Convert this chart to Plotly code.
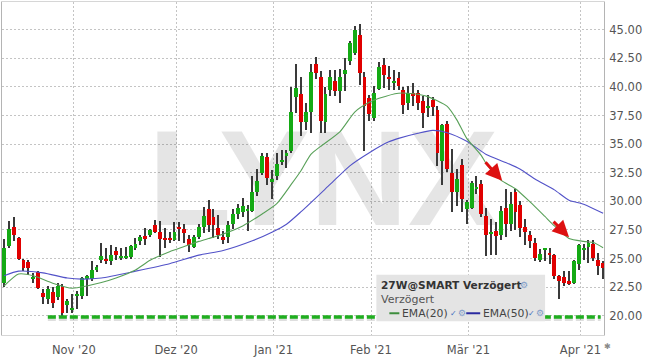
import pandas as pd
import plotly.graph_objects as go

# ---------------- data ----------------
holidays = ["2020-12-24", "2020-12-25", "2020-12-31", "2021-01-01", "2021-04-02", "2021-04-05"]
dates = [d for d in pd.bdate_range("2020-10-13", "2021-04-12") if d.strftime("%Y-%m-%d") not in holidays]

opens = [22.9, 26.1, 27.8, 26.8, 24.9, 24.7, 23.25, 23.8, 22.0, 21.45,
         22.1, 21.6, 22.5, 20.9, 20.55, 21.75, 21.7, 23.2, 23.2, 24.0,
         24.9, 25.0, 24.75, 25.65, 25.1, 25.1, 25.15, 25.9, 26.5, 27.0,
         27.1, 27.95, 27.35, 26.8, 26.8, 26.6, 27.75, 27.6, 26.7, 26.05,
         26.9, 27.8, 29.35, 28.6, 27.7, 26.9, 26.9, 28.0, 28.9, 29.1,
         29.2, 29.2, 30.85, 32.5, 33.85, 31.7, 32.2, 33.4, 33.95, 34.4,
         39.1, 39.4, 36.9, 37.85, 42.0, 40.85, 36.9, 39.7, 40.55, 39.6,
         41.1, 42.3, 43.0, 44.5, 40.85, 39.0, 37.3, 39.8, 41.9, 40.8,
         40.35, 40.8, 39.7, 38.6, 39.45, 39.5, 38.8, 38.2, 38.9, 38.0,
         33.5, 36.8, 32.45, 30.85, 33.2, 29.35, 29.4, 31.1, 31.5, 28.7,
         27.2, 27.4, 27.05, 29.4, 28.05, 30.8, 29.7, 27.75, 27.05, 26.4,
         24.9, 25.75, 25.5, 25.3, 23.5, 23.4, 23.0, 22.9, 24.5, 25.75,
         26.05, 26.25, 24.9, 24.6]
highs = [26.7, 28.3, 28.6, 26.9, 25.0, 24.9, 23.7, 23.9, 22.3, 22.6,
         22.5, 22.9, 22.8, 21.45, 21.9, 22.2, 23.4, 23.6, 24.8, 24.4,
         26.4, 25.9, 26.2, 26.05, 25.9, 26.0, 26.2, 26.8, 27.05, 27.7,
         27.6, 28.35, 28.3, 27.7, 27.3, 28.2, 28.2, 28.0, 27.05, 27.1,
         28.0, 29.5, 30.1, 29.35, 28.8, 27.4, 28.3, 29.3, 29.8, 30.3,
         29.7, 32.2, 32.8, 34.2, 34.2, 32.7, 34.2, 34.5, 34.5, 40.0,
         42.0, 40.9, 38.6, 42.0, 42.6, 41.4, 40.0, 41.5, 41.5, 41.6,
         42.5, 44.0, 45.3, 45.5, 41.3, 39.3, 40.1, 42.2, 42.5, 41.8,
         41.5, 41.3, 40.0, 40.1, 40.3, 39.7, 39.2, 39.3, 39.1, 38.3,
         36.8, 37.0, 34.6, 32.8, 33.7, 30.1, 31.8, 32.2, 31.9, 29.4,
         28.5, 28.2, 29.6, 31.1, 30.8, 31.1, 30.0, 28.5, 27.4, 26.8,
         25.8, 25.95, 25.95, 25.4, 23.6, 23.9, 23.9, 24.9, 26.3, 26.25,
         26.6, 26.6, 25.5, 24.8]
lows = [22.5, 25.9, 26.5, 24.9, 23.9, 23.6, 22.9, 22.3, 21.0, 21.0,
        20.7, 21.4, 20.0, 20.2, 20.2, 20.6, 21.5, 21.7, 23.0, 23.8,
        24.6, 24.5, 24.4, 24.9, 24.9, 25.0, 25.0, 25.75, 26.2, 26.2,
        26.9, 27.2, 25.1, 25.9, 26.4, 26.5, 26.5, 26.4, 25.6, 25.9,
        26.7, 27.2, 27.35, 26.8, 26.75, 26.3, 26.4, 27.6, 28.5, 28.6,
        27.4, 29.1, 30.5, 32.3, 31.4, 30.2, 31.9, 33.2, 32.9, 34.2,
        37.7, 35.7, 36.2, 36.0, 40.7, 36.0, 36.0, 39.2, 39.2, 38.6,
        39.6, 41.9, 42.8, 40.2, 34.4, 37.0, 37.0, 39.7, 39.9, 39.7,
        39.7, 39.7, 37.6, 38.0, 38.3, 38.0, 36.4, 37.4, 37.5, 33.1,
        31.4, 32.6, 29.1, 29.6, 29.1, 28.0, 29.3, 30.65, 28.6, 25.2,
        25.3, 25.3, 26.6, 26.9, 27.4, 27.5, 26.9, 26.2, 25.9, 24.75,
        24.7, 24.8, 24.5, 23.2, 21.45, 22.6, 22.7, 22.8, 24.0, 24.9,
        24.6, 24.8, 23.6, 23.2]
closes = [25.9, 27.6, 27.1, 25.0, 24.2, 24.2, 23.35, 22.4, 21.65, 22.3,
          21.1, 22.6, 20.2, 21.3, 20.65, 21.85, 23.3, 23.5, 24.0, 24.25,
          25.2, 24.75, 25.3, 25.35, 25.2, 25.2, 26.1, 26.25, 26.9, 26.7,
          27.5, 27.35, 26.7, 26.65, 26.6, 27.35, 27.55, 27.2, 26.2, 26.9,
          27.75, 28.75, 27.9, 27.9, 27.1, 26.65, 27.9, 28.9, 29.4, 29.6,
          29.35, 30.8, 31.8, 33.95, 32.0, 31.95, 33.3, 33.6, 34.2, 37.85,
          39.9, 36.9, 37.85, 41.3, 41.2, 37.0, 39.4, 40.85, 39.6, 40.9,
          41.5, 43.8, 45.0, 41.25, 38.3, 37.6, 39.45, 41.7, 41.05, 40.7,
          40.45, 40.1, 38.4, 39.45, 39.2, 38.6, 37.7, 38.3, 38.25, 34.2,
          36.7, 32.8, 30.85, 31.95, 30.2, 29.9, 31.6, 31.2, 28.9, 27.05,
          27.3, 27.0, 29.2, 28.0, 29.8, 29.1, 27.7, 27.35, 26.5, 25.05,
          25.4, 25.85, 25.3, 23.5, 23.05, 22.9, 22.8, 24.75, 26.2, 25.85,
          26.4, 25.05, 24.35, 24.2]

# EMA readings (candle index -> value)
ema20_idx = [0, 3, 6, 10, 14, 17, 20, 23, 27, 30, 34, 37, 40, 42, 44, 49, 53, 56, 59, 61,
             63, 65, 69, 72, 75, 77, 81, 84, 87, 91, 93, 95, 98, 99, 102, 105, 108, 111, 113, 116,
             119, 121, 123]
ema20_val = [22.6, 23.65, 23.5, 22.85, 22.4, 22.6, 22.9, 23.3, 24.0, 24.85, 25.6, 26.05, 26.5, 26.75, 27.0, 27.85, 28.9, 29.8, 31.5, 32.7,
             34.1, 34.8, 36.1, 37.8, 38.65, 39.0, 39.45, 39.4, 39.15, 38.3, 37.1, 35.5, 34.0, 33.3, 31.85, 31.1, 29.95, 28.7, 27.85, 26.75,
             26.5, 26.4, 25.95]
ema50_idx = [0, 3, 8, 13, 16, 20, 27, 34, 40, 45, 51, 55, 58, 61, 67, 71, 75, 79, 81, 85,
             88, 91, 95, 99, 103, 106, 109, 113, 116, 119, 123]
ema50_val = [23.5, 23.9, 23.75, 23.3, 23.2, 23.3, 23.9, 24.55, 25.3, 25.7, 26.55, 27.3, 28.0, 29.1, 31.5, 33.1, 34.25, 35.2, 35.5, 35.95,
             36.2, 36.0, 35.25, 34.1, 33.4, 32.8, 31.95, 31.0, 30.1, 29.75, 28.95]

support_level = 19.9
support_from = 9
support_to = 122.5

month_labels = ["Nov '20", "Dez '20", "Jan '21", "Feb '21", "Mär '21", "Apr '21"]
y_ticks = [20.0, 22.5, 25.0, 27.5, 30.0, 32.5, 35.0, 37.5, 40.0, 42.5, 45.0]

# ---------------- styling / layout ----------------
W, H = 645, 358
ML, MR, MT, MB = 1, 41, 1, 20
PW, PH = W - ML - MR, H - MT - MB
XR = [-0.41, 123.18]
YR = [18.32, 47.42]
UP, DOWN, WICK = "#14aa14", "#e00000", "#3a3a3a"
FONT = "DejaVu Sans"

def pxx(x):
    return (x - ML) / PW

def pxy(y):
    return (MT + PH - y) / PH

n = len(dates)
xi = list(range(n))

# month ticks: first trading day of each month (from November)
tickvals = []
seen = set()
for i, d in enumerate(dates):
    key = (d.year, d.month)
    if key not in seen:
        seen.add(key)
        if i > 0:
            tickvals.append(i + 0.35)

fig = go.Figure()

# watermark (main axes, below the overlay with data)
wx = XR[0] + pxx(323) * (XR[1] - XR[0])
wy = YR[0] + pxy(192) * (YR[1] - YR[0])
fig.add_trace(go.Scatter(x=[wx], y=[wy], mode="text", text=["LYNX"],
                         textfont=dict(family="Liberation Sans, Arial, sans-serif",
                                       size=136, color="rgba(0,0,0,0.10)", weight="bold"),
                         hoverinfo="skip", cliponaxis=False, xaxis="x", yaxis="y"))

# wicks
fig.add_trace(go.Bar(x=xi, y=[h - l for h, l in zip(highs, lows)], base=lows, width=0.22,
                     marker=dict(color=WICK, line=dict(width=0)), xaxis="x2", yaxis="y2",
                     hoverinfo="skip"))
# bodies
fig.add_trace(go.Bar(x=xi, y=[max(abs(c - o), 0.15) for o, c in zip(opens, closes)],
                     base=[min(o, c) for o, c in zip(opens, closes)], width=0.8,
                     marker=dict(color=[UP if c >= o else DOWN for o, c in zip(opens, closes)],
                                 line=dict(width=0)),
                     xaxis="x2", yaxis="y2", hoverinfo="skip"))

# EMAs
fig.add_trace(go.Scatter(x=ema50_idx, y=ema50_val, mode="lines",
                         line=dict(color="#5252c8", width=1.1, shape="spline", smoothing=0.6),
                         xaxis="x2", yaxis="y2", hoverinfo="skip"))
fig.add_trace(go.Scatter(x=ema20_idx, y=ema20_val, mode="lines",
                         line=dict(color="#58a058", width=1.1, shape="spline", smoothing=0.6),
                         xaxis="x2", yaxis="y2", hoverinfo="skip"))

# support line with soft shadow
fig.add_trace(go.Scatter(x=[support_from, support_to], y=[support_level - 0.13] * 2, mode="lines",
                         line=dict(color="rgba(0,0,0,0.13)", width=5, dash="8px,3px"),
                         xaxis="x2", yaxis="y2", hoverinfo="skip"))
fig.add_trace(go.Scatter(x=[support_from, support_to], y=[support_level] * 2, mode="lines",
                         line=dict(color="#1fae1f", width=3.5, dash="8px,3px"),
                         xaxis="x2", yaxis="y2", hoverinfo="skip"))

axis_font = dict(family=FONT, size=11.5, color="#555555")
fig.update_layout(
    width=W, height=H, margin=dict(l=ML, r=MR, t=MT, b=MB, pad=0),
    paper_bgcolor="white", plot_bgcolor="white", showlegend=False,
    barmode="overlay", bargap=0,
    xaxis=dict(range=XR, tickmode="array", tickvals=tickvals, ticktext=month_labels,
               showgrid=True, gridcolor="#c4c4c4", griddash="2px,2px", gridwidth=1,
               showline=True, linecolor="#d6d6d6", linewidth=1, mirror=True,
               ticks="", zeroline=False, tickfont=axis_font, ticklabelstandoff=4),
    yaxis=dict(range=YR, side="right", tickmode="array", tickvals=y_ticks,
               ticktext=[f"{v:.2f}" for v in y_ticks],
               showgrid=True, gridcolor="#c4c4c4", griddash="2px,2px", gridwidth=1,
               showline=True, linecolor="#b4b4b4", linewidth=1, mirror=True,
               ticks="", zeroline=False, tickfont=axis_font, ticklabelstandoff=2),
    xaxis2=dict(range=XR, overlaying="x", anchor="y2", visible=False),
    yaxis2=dict(range=YR, overlaying="y", anchor="x2", visible=False),
)

# legend box
shapes = [
    dict(type="rect", xref="paper", yref="paper", x0=pxx(376), x1=pxx(545), y0=pxy(324), y1=pxy(277),
         fillcolor="#e4e4e4", line=dict(width=0), layer="above"),
    dict(type="line", xref="paper", yref="paper", x0=pxx(389), x1=pxx(399), y0=pxy(316), y1=pxy(316),
         line=dict(color="#3e8e3e", width=2), layer="above"),
    dict(type="line", xref="paper", yref="paper", x0=pxx(466), x1=pxx(480), y0=pxy(316), y1=pxy(316),
         line=dict(color="#2a2aa0", width=2), layer="above"),
]
fig.update_layout(shapes=shapes)

def ann(text, x, y, size=11, color="#444", bold=False, anchor="left"):
    fig.add_annotation(text=(f"<b>{text}</b>" if bold else text), xref="paper", yref="paper",
                       x=pxx(x), y=pxy(y), xanchor=anchor, yanchor="middle", showarrow=False,
                       font=dict(family=FONT, size=size, color=color))

ann("27W@SMART Verzögert", 379, 287, size=10.6, color="#333333", bold=True)
ann("⚙", 524, 287, size=9, color="#7f9cc8", anchor="center")
ann("Verzögert", 379, 302, size=11, color="#555555")
ann("EMA(20)", 400, 316, size=10.8, color="#444444")
ann("✓", 453, 316, size=8, color="#3f6fc0", anchor="center")
ann("⚙", 462, 316, size=9, color="#7f9cc8", anchor="center")
ann("EMA(50)", 481, 316, size=10.8, color="#444444")
ann("✓", 531, 316, size=8, color="#3f6fc0", anchor="center")
ann("⚙", 540, 316, size=9, color="#7f9cc8", anchor="center")
ann("✱", 608, 350, size=8, color="#8a8a8a", anchor="center")

# red arrows
for hx, hy, ax, ay in [(502, 182, -18, -20), (569, 239, -17, -17)]:
    fig.add_annotation(x=pxx(hx), y=pxy(hy), xref="paper", yref="paper", ax=ax, ay=ay,
                       text="", showarrow=True, arrowhead=2, arrowsize=1.1, arrowwidth=3,
                       arrowcolor="#dd1111", standoff=0)

fig.write_html("out.html")
